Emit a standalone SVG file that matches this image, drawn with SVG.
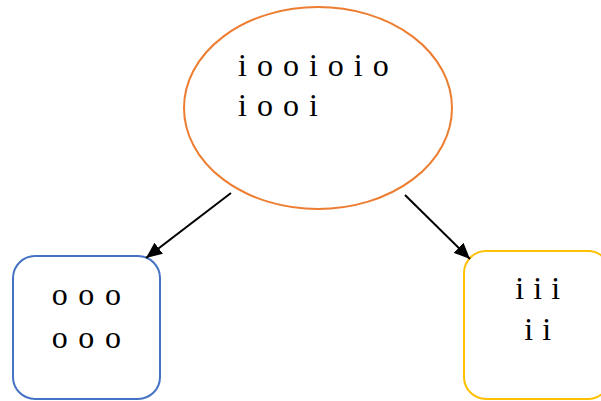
<svg xmlns="http://www.w3.org/2000/svg" width="601" height="401" viewBox="0 0 601 401">
<style>
.t{font-family:"Liberation Serif","Times New Roman",serif;font-size:32px;fill:#000}
.c{stroke:#000;stroke-width:2;fill:none}
</style>
<defs>
<marker id="ah" markerUnits="userSpaceOnUse" markerWidth="18" markerHeight="14" refX="16" refY="7" orient="auto">
<path d="M0,0 L16,7 L0,14 Z" fill="#000"/>
</marker>
</defs>
<rect width="601" height="401" fill="#fff"/>
<g id="root">
<ellipse cx="318" cy="108" rx="134" ry="101" fill="#fff" stroke="#ED7D31" stroke-width="2"/>
<text class="t" x="238" y="76" letter-spacing="1">i o o i o i o</text>
<text class="t" x="238" y="116" letter-spacing="1">i o o i</text>
</g>
<g id="left">
<rect x="13" y="256" width="147" height="143" rx="22" fill="#fff" stroke="#4472C4" stroke-width="2"/>
<text class="t" x="87" y="305" text-anchor="middle" letter-spacing="1.3">o o o</text>
<text class="t" x="87" y="348" text-anchor="middle" letter-spacing="1.3">o o o</text>
</g>
<g id="right">
<rect x="464" y="251" width="146" height="148" rx="22" fill="#fff" stroke="#FFC000" stroke-width="2"/>
<text class="t" x="538" y="299" text-anchor="middle" letter-spacing="0.6">i i i</text>
<text class="t" x="538" y="340" text-anchor="middle" letter-spacing="0.6">i i</text>
</g>
<g id="connectors">
<line class="c" x1="231" y1="193" x2="146" y2="258" marker-end="url(#ah)"/>
<line class="c" x1="405" y1="195" x2="470" y2="259" marker-end="url(#ah)"/>
</g>
</svg>
